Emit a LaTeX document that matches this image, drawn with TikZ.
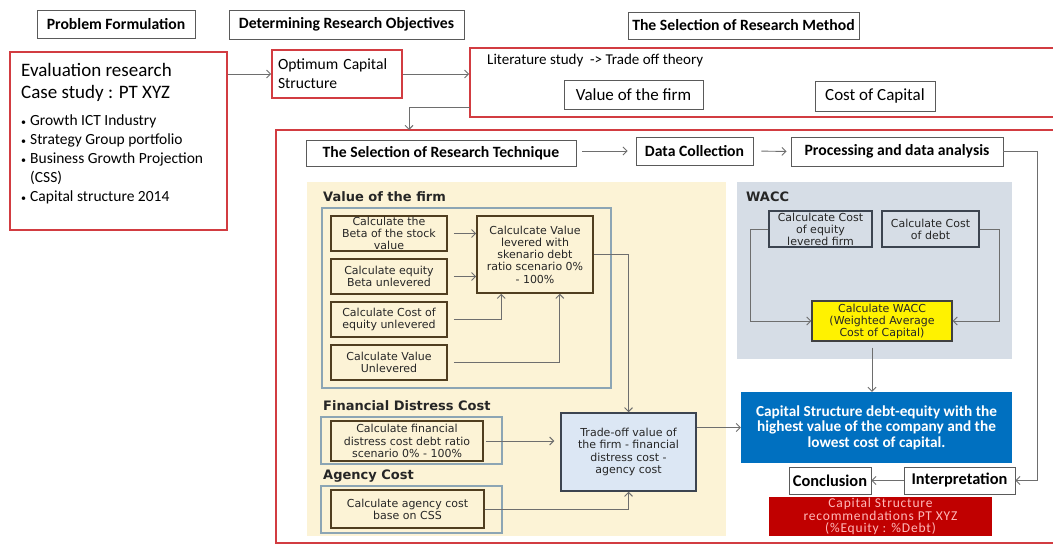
\documentclass[tikz,border=0pt]{standalone}
\usepackage{fontspec}
\setmainfont{Carlito}
\newfontfamily\dv{DejaVu Sans}
\newfontfamily\recfont[LetterSpace=6]{Carlito}
\usetikzlibrary{arrows.meta,calc}
\definecolor{redc}{RGB}{210,60,65}
\definecolor{hdrc}{RGB}{90,90,90}
\definecolor{arrc}{RGB}{110,110,110}
\definecolor{panelc}{RGB}{252,243,214}
\definecolor{outlc}{RGB}{140,165,180}
\definecolor{brownc}{RGB}{80,62,32}
\definecolor{waccp}{RGB}{214,221,230}
\definecolor{slatec}{RGB}{60,68,80}
\definecolor{tradec}{RGB}{220,231,244}
\definecolor{bluec}{RGB}{0,112,192}
\definecolor{recc}{RGB}{192,0,0}
\definecolor{rectext}{RGB}{255,185,185}
\newcommand{\smbul}{{\fontsize{10}{10}\selectfont\textbullet}\hspace{4pt}}
\tikzset{
  hdr/.style={draw=hdrc, line width=0.9pt, inner sep=0pt, font=\bfseries\fontsize{15.7}{18}\selectfont},
  redbox/.style={draw=redc, line width=1.6pt, inner sep=0pt},
  arr/.style={draw=arrc, line width=0.9pt, -{Straight Barb[length=4pt,width=8pt]}},
  calcbox/.style={draw=brownc, line width=1.6pt, inner sep=0pt, align=center, font=\dv\fontsize{11}{12.2}\selectfont, text=black!85},
  waccbox/.style={draw=slatec, line width=1.3pt, inner sep=0pt, align=center, font=\dv\fontsize{11}{12}\selectfont, text=black!85},
  panelhead/.style={anchor=west, inner sep=0pt, font=\dv\bfseries\fontsize{13}{14}\selectfont, text=black!85},
  plain/.style={draw=hdrc, line width=0.9pt, inner sep=0pt, font=\fontsize{17}{20}\selectfont}
}
\begin{document}
\begin{tikzpicture}[x=1pt,y=-1pt]
\useasboundingbox[fill=white] (0,0) rectangle (1053,546);
% top headers
\node[hdr, minimum width=158, minimum height=28] (pf) at (116,24) {Problem Formulation};
\node[hdr, minimum width=235, minimum height=29] (dro) at (346.5,24.5) {Determining Research Objectives};
\node[hdr, minimum width=231, minimum height=27] (srm) at (743.5,25.5) {The Selection of Research Method};
% evaluation box
\node[redbox, minimum width=217, minimum height=178] (eval) at (118.5,141) {};
\node[anchor=north west, inner sep=0pt, align=left, font=\fontsize{19}{22}\selectfont] (evaltxt) at (21,63) {Evaluation research\\Case study : PT XYZ};
\node[anchor=north west, inner sep=0pt, align=left, font=\fontsize{15.5}{19}\selectfont] (bullets) at (21,115)
  {\smbul Growth ICT Industry\\\smbul Strategy Group portfolio\\\smbul Business Growth Projection\\\phantom{\smbul}(CSS)\\\smbul Capital structure 2014};
% optimum
\node[redbox, minimum width=130, minimum height=48, align=left, font=\fontsize{15.6}{19}\selectfont, text width=118] (ocs) at (337,74) {Optimum Capital\\Structure};
% literature
\node[redbox, minimum width=612, minimum height=69] (lit) at (776,82.5) {};
\node[anchor=west, inner sep=0pt, font=\fontsize{15}{17}\selectfont] (littxt) at (487,61) {Literature study\ \ -> Trade off theory};
\node[plain, minimum width=139, minimum height=29] (vof) at (633.5,94.5) {Value of the firm};
\node[plain, minimum width=120, minimum height=30] (coc) at (875,96) {Cost of Capital};
% big red box
\node[redbox, minimum width=806, minimum height=413] (big) at (679,336.5) {};
\coordinate (litout) at (470,107);
\coordinate (bigin) at (409,130);
% arrows top
\draw[arr] (eval.east |- ocs.west) -- (ocs.west);
\draw[arr] (ocs.east) -- (lit.west |- ocs.east);
\draw[arr] (litout) -| (bigin);
% technique row
\node[hdr, minimum width=270, minimum height=26] (tech) at (441,153) {The Selection of Research Technique};
\node[hdr, minimum width=117, minimum height=28] (dc) at (694.5,151) {Data Collection};
\node[hdr, minimum width=212, minimum height=29] (pda) at (897,151.5) {Processing and data analysis};
\draw[arr, shorten <=6pt, shorten >=8pt] (tech.east |- dc.west) -- (dc.west);
\draw[arr, shorten <=8pt, shorten >=4pt] (dc.east) -- (pda.west);
% panels
\node[fill=panelc, minimum width=419, minimum height=354, inner sep=0pt] (ypanel) at (516.5,359) {};
\node[fill=waccp, minimum width=275, minimum height=177, inner sep=0pt] (wpanel) at (874.5,270.5) {};
% value of the firm
\node[panelhead] (vofh) at (323,197) {Value of the firm};
\node[draw=outlc, line width=1.3pt, minimum width=289, minimum height=180, inner sep=0pt] (vofo) at (466.5,298) {};
\node[calcbox, minimum width=116, minimum height=35] (b1) at (389,233.5) {Calculate the\\Beta of the stock\\value};
\node[calcbox, minimum width=116, minimum height=35] (b2) at (389,276.5) {Calculate equity\\Beta unlevered};
\node[calcbox, minimum width=116, minimum height=35] (b3) at (389,319.5) {Calculate Cost of\\equity unlevered};
\node[calcbox, minimum width=116, minimum height=35] (b4) at (389,362.5) {Calculate Value\\Unlevered};
\node[calcbox, minimum width=116, minimum height=77] (lev) at (535,254.5) {Calculcate Value\\levered with\\skenario debt\\ratio scenario 0\%\\- 100\%};
\draw[arr, shorten <=6pt] (b1.east) -- (lev.west |- b1.east);
\draw[arr, shorten <=6pt] (b2.east) -- (lev.west |- b2.east);
\draw[arr, shorten <=6pt] (b3.east) -| ($(lev.south west)+(25,0)$);
\draw[arr, shorten <=6pt] (b4.east) -| ($(lev.south east)+(-34,0)$);
% financial distress
\node[panelhead] (fdch) at (323,406) {Financial Distress Cost};
\node[draw=outlc, line width=1.3pt, minimum width=181, minimum height=47, inner sep=0pt] (fdco) at (411.5,440.5) {};
\node[calcbox, minimum width=152, minimum height=40] (fdc) at (407,441) {Calculate financial\\distress cost debt ratio\\scenario 0\% - 100\%};
% agency
\node[panelhead] (ach) at (323,476) {Agency Cost};
\node[draw=outlc, line width=1.3pt, minimum width=181, minimum height=47, inner sep=0pt] (aco) at (411.5,509.5) {};
\node[calcbox, minimum width=153, minimum height=38] (acb) at (407.5,509) {Calculate agency cost\\base on CSS};
% trade-off
\node[draw=slatec, line width=1.5pt, fill=tradec, minimum width=135, minimum height=78, inner sep=0pt, align=center, font=\dv\fontsize{11}{12.2}\selectfont, text=black!85] (trade) at (628.5,452) {Trade-off value of\\the firm - financial\\distress cost -\\agency cost};
\draw[arr] (lev.east) -| (trade.north);
\draw[arr, shorten <=2pt, shorten >=6pt] (fdc.east) -- (trade.west |- fdc.east);
\draw[arr] (acb.east) -| (trade.south);
% WACC
\node[panelhead] (wacch) at (746,197) {WACC};
\node[waccbox, minimum width=103, minimum height=36] (ce) at (820.5,229) {Calculcate Cost\\of equity\\levered firm};
\node[waccbox, minimum width=97, minimum height=36] (cd) at (930.5,229) {Calculate Cost\\of debt};
\node[draw=black!75, line width=1.3pt, fill=yellow, minimum width=140, minimum height=40, inner sep=0pt, align=center, font=\dv\fontsize{11}{12}\selectfont, text=black!85] (wacc) at (882,321) {Calculate WACC\\(Weighted Average\\Cost of Capital)};
\draw[arr] (ce.west) -- ++(-18,0) |- (wacc.west);
\draw[arr] (cd.east) -- ++(20,0) |- (wacc.east);
% capital structure
\node[fill=bluec, minimum width=271, minimum height=71, inner sep=0pt, align=center, text=white, font=\bfseries\fontsize{15.3}{15.5}\selectfont] (cs) at (876.5,427.5) {Capital Structure debt-equity with the\\highest value of the company and the\\lowest cost of capital.};
\draw[arr, shorten <=6pt] (wacc.south -| 872,0) -- (cs.north -| 872,0);
\draw[arr] (trade.east |- cs.west) -- (cs.west);
% conclusion
\node[hdr, minimum width=82, minimum height=27, font=\bfseries\fontsize{16.4}{18}\selectfont] (concl) at (830,480.5) {Conclusion};
\node[hdr, minimum width=111, minimum height=27, font=\bfseries\fontsize{16.4}{18}\selectfont] (interp) at (959.5,480.5) {Interpretation};
\draw[arr] (interp.west) -- (concl.east);
\draw[arr] (pda.east) -- ++(34,0) |- (interp.east);
\node[fill=recc, minimum width=223, minimum height=39, inner sep=0pt, align=center, text=rectext, font=\recfont\fontsize{13.5}{12.5}\selectfont] (rec) at (880.5,516.5) {Capital Structure\\recommendations PT XYZ\\(\%Equity : \%Debt)};
\end{tikzpicture}
\end{document}
